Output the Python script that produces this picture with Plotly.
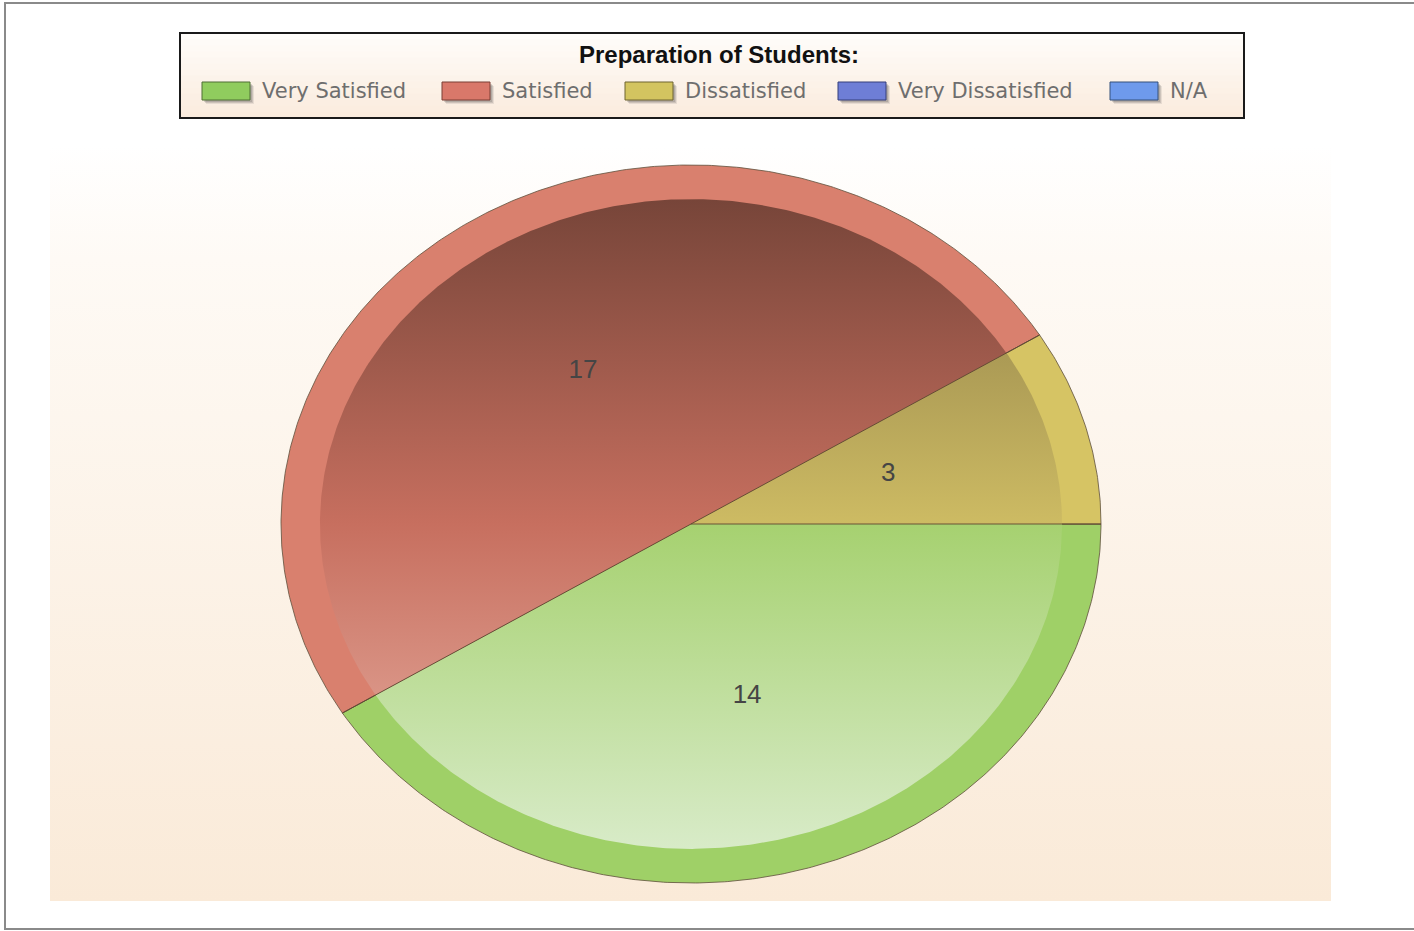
import numpy as np
import plotly.graph_objects as go

# ---------------- data ----------------
categories = ["Very Satisfied", "Satisfied", "Dissatisfied", "Very Dissatisfied", "N/A"]
counts = [14, 17, 3, 0, 0]
legend_title = "Preparation of Students:"

# ---------------- style ----------------
rim_colors = ["#9FD067", "#D9806E", "#D6C464", "#6F7FD8", "#6F9AEE"]
legend_colors = ["#90CC5E", "#D9786A", "#D3C460", "#6E7ED6", "#6E9AEC"]
legend_edges = ["#4E6E34", "#7A3E34", "#6E6430", "#343E7A", "#34507A"]
inner_scales = [
    [[0, "#D8EBC8"], [0.5, "#A6D170"], [1, "#6E8F45"]],
    [[0, "#EAB5A8"], [0.5, "#C76F5F"], [1, "#774539"]],
    [[0, "#E3D89A"], [0.5, "#CDBB63"], [1, "#8C7C48"]],
    [[0, "#9AA6E6"], [0.5, "#6F7FD8"], [1, "#46508A"]],
    [[0, "#9DBCF3"], [0.5, "#6F9AEE"], [1, "#46629A"]],
]
RX, RY = 410.0, 359.0      # pie radii in plot-area pixels (the pie is squashed)
INNER = 0.905              # inner (gradient) part relative to rim
LABEL_R = 0.5
FONT = "Liberation Sans, Arial, sans-serif"
LEG_FONT = "DejaVu Sans, Verdana, sans-serif"

# legend layout (page pixels)
LEG_BOX = (180, 33, 1244, 118)
LEG_SYM_X = [202, 442, 625, 838, 1110]
LEG_SYM_W, LEG_SYM_Y0, LEG_SYM_Y1 = 48, 82, 100
LEG_TITLE_XY = (719, 55)

total = float(sum(counts))


def sector(a0, a1, scale):
    n = max(2, int(abs(a1 - a0) / 0.5) + 2)
    t = -np.radians(np.linspace(a0, a1, n))  # clockwise from 3 o'clock
    xs = np.concatenate([[0.0], scale * RX * np.cos(t), [0.0]])
    ys = np.concatenate([[0.0], scale * RY * np.sin(t), [0.0]])
    return xs, ys


fig = go.Figure()

# background panel with vertical gradient
XR = [-641, 640]
YR = [-377, 379]
fig.add_trace(go.Scatter(
    x=[XR[0], XR[1], XR[1], XR[0], XR[0]], y=[YR[0], YR[0], YR[1], YR[1], YR[0]],
    mode="lines", line=dict(width=0), fill="toself",
    fillgradient=dict(type="vertical",
                      colorscale=[[0, "#FAEAD8"], [0.85, "#FEFAF5"], [1, "#FFFFFF"]],
                      start=YR[0], stop=YR[1]),
    showlegend=False, hoverinfo="skip"))

starts, ends = [], []
cum = 0.0
for v in counts:
    starts.append(cum / total * 360.0)
    cum += v
    ends.append(cum / total * 360.0)

# rim (outer) sectors
for i, cat in enumerate(categories):
    if counts[i] == 0:
        continue
    xs, ys = sector(starts[i], ends[i], 1.0)
    fig.add_trace(go.Scatter(
        x=xs, y=ys, mode="lines", fill="toself", fillcolor=rim_colors[i],
        line=dict(color="rgba(95,80,60,0.8)", width=1),
        name=cat, hoverinfo="skip", showlegend=False))

# inner gradient sectors
for i, cat in enumerate(categories):
    if counts[i] == 0:
        continue
    xs, ys = sector(starts[i], ends[i], INNER)
    fig.add_trace(go.Scatter(
        x=xs, y=ys, mode="lines", fill="toself", line=dict(width=0),
        fillgradient=dict(type="vertical", colorscale=inner_scales[i],
                          start=-RY * INNER, stop=RY * INNER),
        showlegend=False, hoverinfo="skip"))

# slice divider lines
dx, dy = [], []
for i in range(len(counts)):
    if counts[i] == 0:
        continue
    t = -np.radians(starts[i])
    dx += [0, RX * np.cos(t), None]
    dy += [0, RY * np.sin(t), None]
fig.add_trace(go.Scatter(x=dx, y=dy, mode="lines",
                         line=dict(color="rgba(95,70,50,0.9)", width=1),
                         showlegend=False, hoverinfo="skip"))

# value labels
lx, ly, lt = [], [], []
for i, v in enumerate(counts):
    if v == 0:
        continue
    t = -np.radians((starts[i] + ends[i]) / 2)
    lx.append(LABEL_R * RX * np.cos(t))
    ly.append(LABEL_R * RY * np.sin(t))
    lt.append(str(v))
fig.add_trace(go.Scatter(x=lx, y=ly, mode="text", text=lt,
                         textfont=dict(family=FONT, size=26, color="#454545"),
                         showlegend=False, hoverinfo="skip"))

W, H = 1414, 931
L, R, T, B = 50, 83, 145, 30
pw, ph = W - L - R, H - T - B


def px(p):
    return (p - L) / pw


def py(p):
    return (H - B - p) / ph


shapes = []
annotations = []

# legend box with soft vertical gradient (bands)
bx0, by0, bx1, by1 = LEG_BOX
nb = 14
c_top = np.array([255, 253, 250])
c_bot = np.array([251, 236, 222])
for k in range(nb):
    f = k / (nb - 1)
    c = (c_top * (1 - f) + c_bot * f).astype(int)
    y0 = by0 + (by1 - by0) * k / nb
    y1 = by0 + (by1 - by0) * (k + 1) / nb
    shapes.append(dict(type="rect", xref="paper", yref="paper",
                       x0=px(bx0), x1=px(bx1), y0=py(y1 + 0.5), y1=py(y0),
                       line=dict(width=0), fillcolor="rgb(%d,%d,%d)" % tuple(c),
                       layer="above"))
shapes.append(dict(type="rect", xref="paper", yref="paper",
                   x0=px(bx0), x1=px(bx1), y0=py(by1), y1=py(by0),
                   line=dict(color="#1a1a1a", width=2), fillcolor="rgba(0,0,0,0)",
                   layer="above"))
annotations.append(dict(xref="paper", yref="paper", x=px(LEG_TITLE_XY[0]),
                        y=py(LEG_TITLE_XY[1]), xanchor="center", yanchor="middle",
                        text="<b>" + legend_title + "</b>", showarrow=False,
                        font=dict(family=FONT, size=24, color="#111111")))
for i, cat in enumerate(categories):
    sx = LEG_SYM_X[i]
    # soft shadow
    for off, alpha in ((4, 0.10), (3, 0.16), (2, 0.18)):
        shapes.append(dict(type="rect", xref="paper", yref="paper",
                           x0=px(sx + off), x1=px(sx + LEG_SYM_W + off),
                           y0=py(LEG_SYM_Y1 + off), y1=py(LEG_SYM_Y0 + off),
                           line=dict(width=0), fillcolor="rgba(60,60,60,%.2f)" % alpha,
                           layer="above"))
    shapes.append(dict(type="rect", xref="paper", yref="paper",
                       x0=px(sx), x1=px(sx + LEG_SYM_W),
                       y0=py(LEG_SYM_Y1), y1=py(LEG_SYM_Y0),
                       line=dict(color=legend_edges[i], width=1),
                       fillcolor=legend_colors[i], layer="above"))
    annotations.append(dict(xref="paper", yref="paper", x=px(sx + LEG_SYM_W + 10),
                            y=py((LEG_SYM_Y0 + LEG_SYM_Y1) / 2), xanchor="left",
                            yanchor="middle", text=cat, showarrow=False,
                            font=dict(family=LEG_FONT, size=21, color="#6e6e6e")))

# outer frame (right edge lies beyond the visible page)
shapes.append(dict(type="rect", xref="paper", yref="paper",
                   x0=px(5), x1=px(1420), y0=py(929), y1=py(3),
                   line=dict(color="#8a8a8a", width=2), layer="below"))

fig.update_layout(
    width=W, height=H,
    margin=dict(l=L, r=R, t=T, b=B),
    paper_bgcolor="white", plot_bgcolor="white",
    showlegend=False,
    xaxis=dict(range=XR, visible=False, fixedrange=True),
    yaxis=dict(range=YR, visible=False, fixedrange=True),
    shapes=shapes, annotations=annotations,
)

fig.write_html("out.html", config={"displayModeBar": False},
               post_script="document.body.style.margin='0px';")
